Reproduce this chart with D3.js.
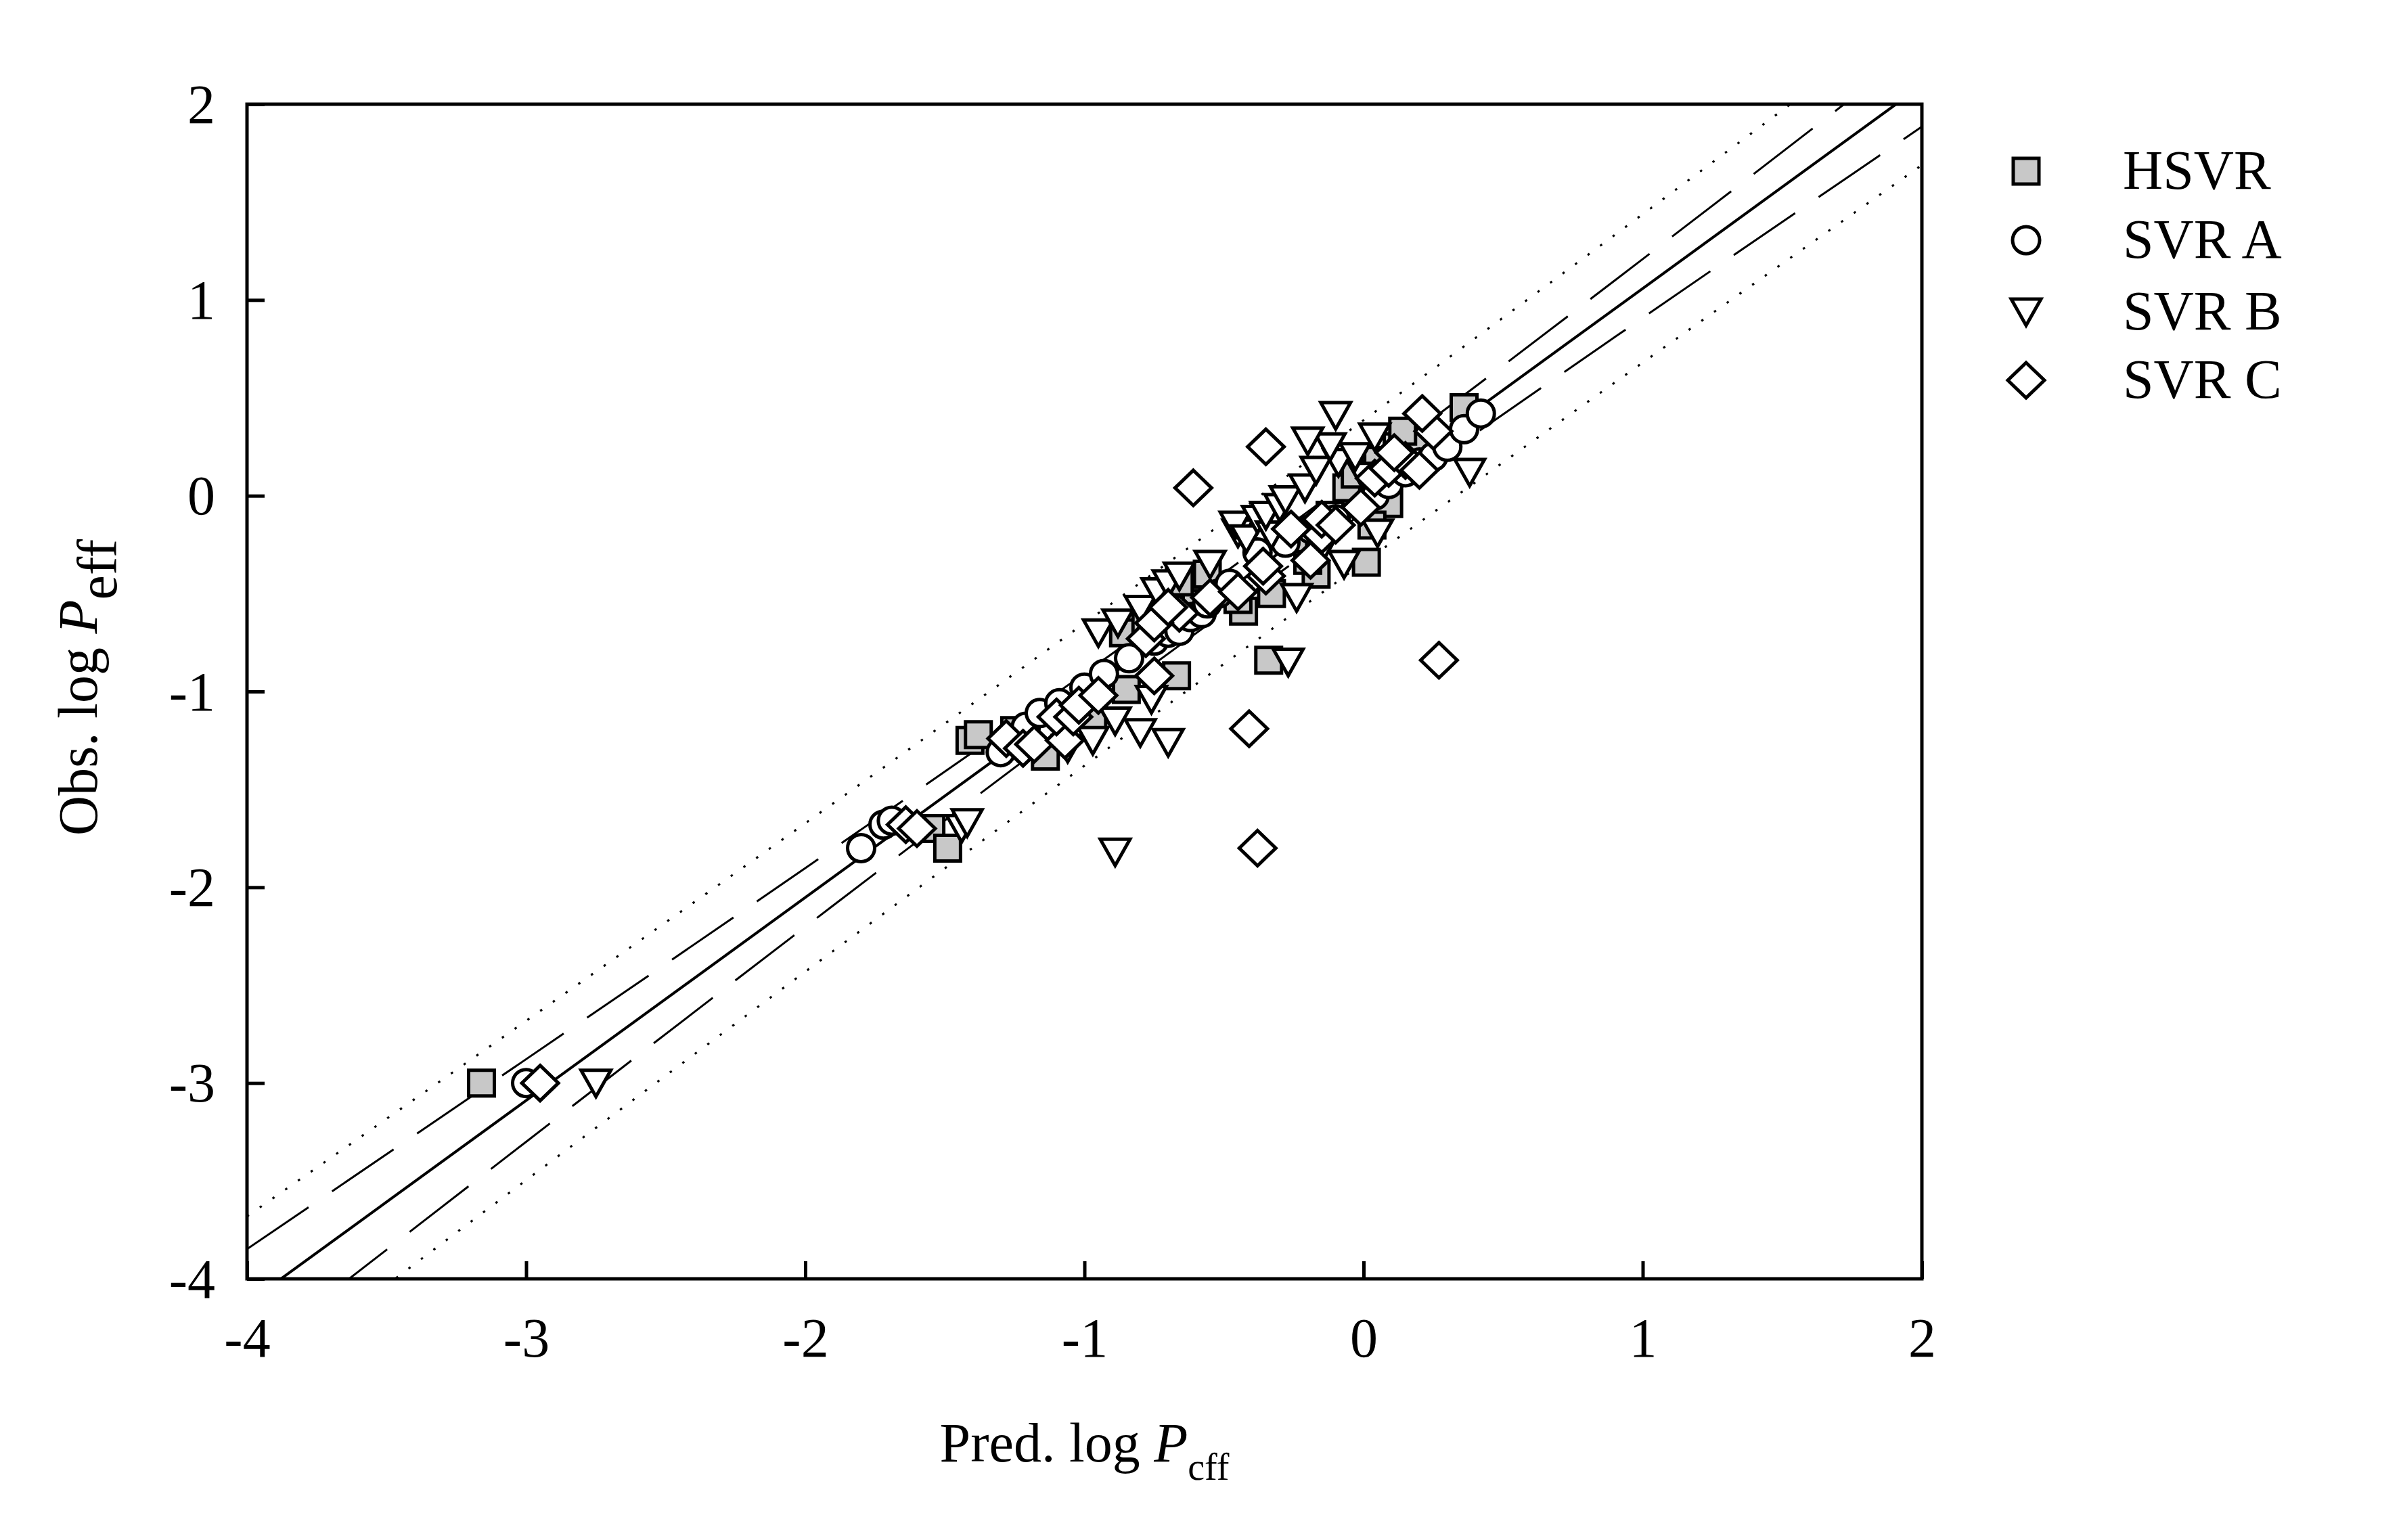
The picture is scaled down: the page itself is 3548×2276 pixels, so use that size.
<!DOCTYPE html>
<html>
<head>
<meta charset="utf-8">
<script src="https://cdn.jsdelivr.net/npm/d3@7"></script>
<style>
  html, body { margin: 0; padding: 0; background: #fff; }
  svg { display: block; font-family: "Liberation Serif", "Times New Roman", serif; }
</style>
</head>
<body>
<div id="chart"></div>
<script>
// Observed vs predicted log Peff, one [pred, obs] pair per compound
const hsvr = [
  [-3.16, -3.00], [-1.55, -1.70], [-1.49, -1.80], [-1.41, -1.25], [-1.38, -1.22],
  [-1.25, -1.20], [-1.14, -1.33], [-0.97, -1.13], [-0.85, -0.99], [-0.67, -0.92],
  [-0.86, -0.70], [-0.78, -0.66], [-0.34, -0.84], [-0.60, -0.55], [-0.43, -0.59],
  [-0.45, -0.53], [-0.56, -0.40], [-0.66, -0.44], [-0.33, -0.50], [-0.17, -0.40],
  [-0.20, -0.33], [-0.25, -0.22], [-0.12, -0.10], [0.01, -0.34], [0.09, -0.04],
  [0.03, -0.15], [-0.06, 0.04], [-0.03, 0.11], [0.05, 0.18], [0.12, 0.25],
  [0.20, 0.27], [0.14, 0.33], [0.36, 0.45]
];
const svrA = [
  [-3.00, -3.00], [-1.80, -1.80], [-1.72, -1.68], [-1.69, -1.66], [-1.30, -1.31],
  [-1.24, -1.24], [-1.21, -1.18], [-1.16, -1.11], [-1.09, -1.06], [-1.00, -0.98],
  [-0.93, -0.91], [-0.84, -0.83], [-0.75, -0.74], [-0.70, -0.70], [-0.66, -0.69],
  [-0.62, -0.62], [-0.58, -0.60], [-0.56, -0.55], [-0.52, -0.50], [-0.48, -0.45],
  [-0.38, -0.29], [-0.28, -0.24], [-0.19, -0.17], [-0.10, -0.12], [0.04, 0.00],
  [0.09, 0.06], [0.15, 0.12], [0.20, 0.17], [0.25, 0.20], [0.30, 0.25],
  [0.36, 0.34], [0.42, 0.42]
];
const svrB = [
  [-2.75, -3.00], [-1.44, -1.70], [-1.42, -1.67], [-0.89, -1.82], [-1.06, -1.29],
  [-0.97, -1.25], [-0.89, -1.15], [-0.80, -1.21], [-0.70, -1.26], [-0.76, -1.04],
  [-0.27, -0.85], [-0.95, -0.70], [-0.88, -0.65], [-0.80, -0.58], [-0.74, -0.49],
  [-0.70, -0.45], [-0.66, -0.41], [-0.55, -0.35], [-0.24, -0.52], [-0.14, -0.25],
  [-0.07, -0.35], [0.05, -0.19], [-0.45, -0.19], [-0.46, -0.15], [-0.42, -0.22],
  [-0.38, -0.12], [-0.33, -0.20], [-0.35, -0.10], [-0.30, -0.06], [-0.28, -0.02],
  [-0.21, 0.04], [-0.17, 0.13], [0.00, 0.10], [-0.09, 0.17], [-0.03, 0.20],
  [-0.12, 0.25], [-0.20, 0.28], [-0.10, 0.41], [0.04, 0.30], [0.38, 0.12]
];
const svrC = [
  [-2.95, -3.00], [-1.64, -1.68], [-1.60, -1.70], [-0.38, -1.80], [-0.41, -1.19],
  [-1.28, -1.24], [-1.22, -1.29], [-1.18, -1.27], [-1.07, -1.25], [-1.10, -1.13],
  [-1.04, -1.13], [-1.02, -1.07], [-0.95, -1.02], [-0.75, -0.92], [-0.78, -0.73],
  [-0.66, -0.60], [-0.75, -0.65], [-0.70, -0.57], [-0.55, -0.52], [-0.45, -0.49],
  [-0.35, -0.41], [-0.36, -0.36], [-0.26, -0.17], [-0.19, -0.33], [-0.15, -0.20],
  [-0.15, -0.12], [-0.10, -0.15], [-0.01, -0.06], [0.04, 0.09], [0.09, 0.14],
  [0.15, 0.18], [0.11, 0.22], [0.20, 0.13], [0.25, 0.33], [0.21, 0.42],
  [-0.61, 0.04], [-0.35, 0.25], [0.27, -0.84]
];

// Regression line and bands at integer x
const bandX = [-4, -3, -2, -1, 0, 1, 2];
const fitY = [-4.126, -3.089, -2.052, -1.015, 0.022, 1.059, 2.096];
const confUpper = [-3.848, -2.878, -1.902, -0.908, 0.129, 1.209, 2.307];
const confLower = [-4.404, -3.300, -2.202, -1.122, -0.085, 0.909, 1.885];
const predUpper = [-3.681, -2.682, -1.673, -0.651, 0.386, 1.438, 2.503];
const predLower = [-4.571, -3.496, -2.431, -1.379, -0.342, 0.680, 1.689];

const xTicks = [-4, -3, -2, -1, 0, 1, 2];
const yTicks = [-4, -3, -2, -1, 0, 1, 2];
const seriesNames = ["HSVR", "SVR A", "SVR B", "SVR C"];

const W = 3548, H = 2276;
const plot = { left: 365, right: 2840, top: 154, bottom: 1890 };
const STROKE = 5;
const FONT = 82;

const x = d3.scaleLinear().domain([-4, 2]).range([plot.left, plot.right]);
const y = d3.scaleLinear().domain([-4, 2]).range([plot.bottom, plot.top]);

// marker outlines, sized in pixels, centred on 0,0
function markerPath(kind) {
  const p = d3.path();
  if (kind === "square") {
    p.rect(-19, -19, 38, 38);
  } else if (kind === "circle") {
    p.arc(0, 0, 20, 0, 2 * Math.PI);
  } else if (kind === "triangle") {
    p.moveTo(-22, -19); p.lineTo(22, -19); p.lineTo(0, 20); p.closePath();
  } else {
    p.moveTo(0, -26); p.lineTo(27, 0); p.lineTo(0, 26); p.lineTo(-27, 0); p.closePath();
  }
  return p.toString();
}

const series = [
  { name: seriesNames[0], data: hsvr, kind: "square", fill: "#c8c8c8" },
  { name: seriesNames[1], data: svrA, kind: "circle", fill: "#ffffff" },
  { name: seriesNames[2], data: svrB, kind: "triangle", fill: "#ffffff" },
  { name: seriesNames[3], data: svrC, kind: "diamond", fill: "#ffffff" },
];

const svg = d3.select("#chart").append("svg")
  .attr("width", W).attr("height", H)
  .attr("viewBox", `0 0 ${W} ${H}`);

svg.append("rect").attr("width", W).attr("height", H).attr("fill", "#fff");

svg.append("clipPath").attr("id", "plotClip")
  .append("rect")
  .attr("x", plot.left).attr("y", plot.top)
  .attr("width", plot.right - plot.left).attr("height", plot.bottom - plot.top);

// lines
const lineGen = (ys) => d3.line()
  .x((d, i) => x(bandX[i]))
  .y((d) => y(d))
  .curve(d3.curveMonotoneX)(ys);

const lines = svg.append("g").attr("clip-path", "url(#plotClip)").attr("fill", "none").attr("stroke", "#000");
lines.append("path").attr("d", lineGen(fitY)).attr("stroke-width", 4);
[confUpper, confLower].forEach((ys) => {
  lines.append("path").attr("d", lineGen(ys))
    .attr("stroke-width", 3).attr("stroke-dasharray", "110,42");
});
[predUpper, predLower].forEach((ys) => {
  lines.append("path").attr("d", lineGen(ys))
    .attr("stroke-width", 3.2).attr("stroke-dasharray", "3.5,19.5");
});

// points
const pts = svg.append("g").attr("clip-path", "url(#plotClip)");
series.forEach((s) => {
  pts.append("g")
    .selectAll("path")
    .data(s.data)
    .join("path")
    .attr("d", markerPath(s.kind))
    .attr("transform", (d) => `translate(${x(d[0])},${y(d[1])})`)
    .attr("fill", s.fill)
    .attr("stroke", "#000")
    .attr("stroke-width", STROKE)
    .attr("stroke-linejoin", "miter");
});

// axes, ticks pointing inward
const xAxis = d3.axisBottom(x).tickValues(xTicks).tickFormat((d) => String(d))
  .tickSizeInner(-26).tickSizeOuter(0).tickPadding(57);
const yAxis = d3.axisLeft(y).tickValues(yTicks).tickFormat((d) => String(d))
  .tickSizeInner(-26).tickSizeOuter(0).tickPadding(47);

const gx = svg.append("g").attr("transform", `translate(0,${plot.bottom})`).call(xAxis);
const gy = svg.append("g").attr("transform", `translate(${plot.left},0)`).call(yAxis);
[gx, gy].forEach((g) => {
  g.select(".domain").remove();
  g.selectAll(".tick line").attr("stroke", "#000").attr("stroke-width", STROKE);
  g.selectAll(".tick text")
    .attr("fill", "#000")
    .style("font-family", '"Liberation Serif", "Times New Roman", serif')
    .style("font-size", FONT + "px");
});
gy.selectAll(".tick text").attr("dy", "0.33em");

// frame
svg.append("rect")
  .attr("x", plot.left).attr("y", plot.top)
  .attr("width", plot.right - plot.left).attr("height", plot.bottom - plot.top)
  .attr("fill", "none").attr("stroke", "#000").attr("stroke-width", STROKE);

// axis titles
const xTitle = svg.append("text")
  .attr("x", (plot.left + plot.right) / 2).attr("y", 2160)
  .attr("text-anchor", "middle").style("font-size", FONT + "px");
xTitle.append("tspan").text("Pred. log ");
xTitle.append("tspan").style("font-style", "italic").text("P");
xTitle.append("tspan").style("font-size", "56px").attr("dy", 27).text("cff");

const yTitle = svg.append("text")
  .attr("transform", `translate(143,${(plot.top + plot.bottom) / 2 - 6}) rotate(-90)`)
  .attr("text-anchor", "middle").style("font-size", FONT + "px");
yTitle.append("tspan").text("Obs. log ");
yTitle.append("tspan").style("font-style", "italic").text("P");
yTitle.append("tspan").attr("dy", 29).text("eff");

// legend
const legend = svg.append("g");
const legendRows = [253, 355, 461, 562];
series.forEach((s, i) => {
  legend.append("path")
    .attr("d", markerPath(s.kind))
    .attr("transform", `translate(2994,${legendRows[i]})`)
    .attr("fill", s.fill).attr("stroke", "#000").attr("stroke-width", STROKE);
  legend.append("text")
    .attr("x", 3137).attr("y", legendRows[i] + 26)
    .style("font-size", FONT + "px")
    .text(s.name);
});
</script>
</body>
</html>
